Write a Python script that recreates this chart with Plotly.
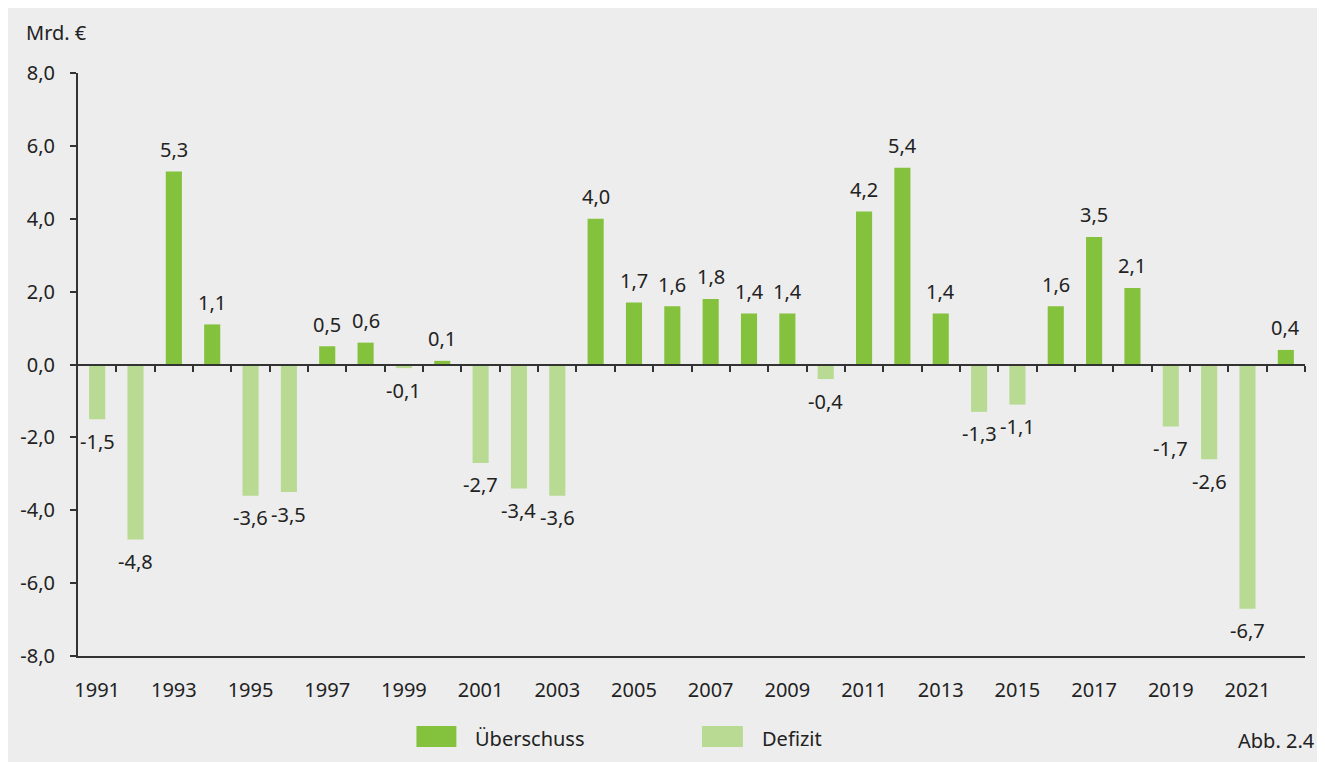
import plotly.graph_objects as go

# --- data -----------------------------------------------------------
years = list(range(1991, 2023))
saldo = [-1.5, -4.8, 5.3, 1.1, -3.6, -3.5, 0.5, 0.6, -0.1, 0.1,
         -2.7, -3.4, -3.6, 4.0, 1.7, 1.6, 1.8, 1.4, 1.4, -0.4,
         4.2, 5.4, 1.4, -1.3, -1.1, 1.6, 3.5, 2.1, -1.7, -2.6,
         -6.7, 0.4]
y_ticks = [-8, -6, -4, -2, 0, 2, 4, 6, 8]
y_ticktext = ["-8,0", "-6,0", "-4,0", "-2,0", "0,0", "2,0", "4,0", "6,0", "8,0"]
x_ticks = list(range(1991, 2022, 2))

GREEN = "#84C13D"
LIGHT = "#B9DA93"
BG = "#EDEDED"
INK = "#222222"
FONT = "Noto Sans"
FS = 20

# figure geometry (px) -> used to place the hand-drawn legend
W, H = 1317, 754
ML, MR, MT, MB = 68, 20, 65, 106
PW, PH = W - ML - MR, H - MT - MB


def px(x):
    return (x - 8 - ML) / PW


def py(y):
    return (H - MB - (y - 8)) / PH


def fmt(v):
    return f"{v:.1f}".replace(".", ",")


surplus = [v if v >= 0 else None for v in saldo]
deficit = [v if v < 0 else None for v in saldo]

fig = go.Figure()
fig.add_trace(go.Bar(x=years, y=surplus, name="Überschuss",
                     marker=dict(color=GREEN, line=dict(width=0)),
                     showlegend=False, hoverinfo="x+y"))
fig.add_trace(go.Bar(x=years, y=deficit, name="Defizit",
                     marker=dict(color=LIGHT, line=dict(width=0)),
                     showlegend=False, hoverinfo="x+y"))

# value labels
for yr, v in zip(years, saldo):
    fig.add_annotation(x=yr, y=v, text=fmt(v), showarrow=False,
                       yshift=22 if v >= 0 else -22,
                       font=dict(family=FONT, size=FS, color=INK))

# zero line with category ticks (second x axis pinned to y=0)
fig.add_trace(go.Scatter(x=[years[0]], y=[0], xaxis="x2", mode="markers",
                         marker=dict(opacity=0), showlegend=False,
                         hoverinfo="skip"))

# legend drawn by hand (large swatches)
for x0, x1, col in [(415, 455, GREEN), (701, 742, LIGHT)]:
    fig.add_shape(type="rect", xref="paper", yref="paper",
                  x0=px(x0), x1=px(x1), y0=py(747), y1=py(726),
                  fillcolor=col, line=dict(width=0))
for x0, label in [(472, "Überschuss"), (759, "Defizit")]:
    fig.add_annotation(x=px(x0), y=py(738), xref="paper", yref="paper",
                       text=label, showarrow=False, xanchor="left",
                       yanchor="middle",
                       font=dict(family=FONT, size=FS, color=INK))

fig.add_annotation(x=px(22), y=py(33), xref="paper", yref="paper",
                   text="Mrd. €", showarrow=False, xanchor="left",
                   yanchor="middle", font=dict(family=FONT, size=FS, color=INK))
fig.add_annotation(x=px(1317), y=py(740), xref="paper", yref="paper",
                   text="Abb. 2.4", showarrow=False, xanchor="right",
                   yanchor="middle", font=dict(family=FONT, size=FS, color=INK))

fig.update_layout(
    width=W, height=H,
    margin=dict(l=ML, r=MR, t=MT, b=MB),
    paper_bgcolor=BG, plot_bgcolor=BG,
    barmode="overlay", bargap=0.58,
    font=dict(family=FONT, size=FS, color=INK),
    showlegend=False,
    xaxis=dict(range=[1990.5, 2022.5], tickvals=x_ticks,
               ticktext=[str(t) for t in x_ticks],
               showgrid=False, zeroline=False, showline=True,
               linecolor="#333333", linewidth=2, ticks="",
               ticklabelstandoff=15, fixedrange=True),
    xaxis2=dict(range=[1990.5, 2022.5], overlaying="x", anchor="free",
                position=0.5, side="bottom",
                tickvals=[y + 0.5 for y in years], showticklabels=False,
                ticks="outside", ticklen=6, tickwidth=2, tickcolor="#333333",
                showline=True, linecolor="#333333", linewidth=2,
                showgrid=False, zeroline=False),
    yaxis=dict(range=[-8, 8], tickvals=y_ticks, ticktext=y_ticktext,
               showgrid=False, zeroline=False, showline=True,
               linecolor="#333333", linewidth=2,
               ticks="outside", ticklen=6, tickwidth=2, tickcolor="#333333",
               ticklabelstandoff=11, fixedrange=True),
)

fig.write_html("out.html")
